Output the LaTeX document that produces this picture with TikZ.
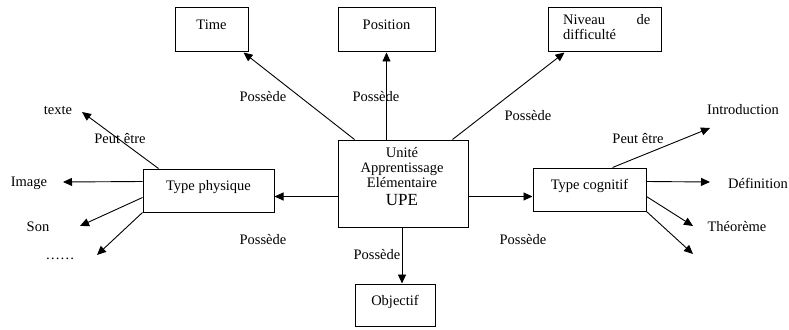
\documentclass[tikz,border=0pt]{standalone}
\usepackage{fontspec}
\setmainfont{Liberation Serif}
\usetikzlibrary{arrows.meta,calc}
\tikzset{
  box/.style={draw,line width=1pt,inner sep=0pt,text height=7pt,text depth=7pt,
    font=\fontsize{14.5}{15}\selectfont},
  lbl/.style={inner sep=0pt,font=\fontsize{14.5}{15}\selectfont},
  arr/.style={line width=0.9pt,-{Triangle[length=9pt,width=8pt]}},
}
\begin{document}
\begin{tikzpicture}[x=1pt,y=-1pt]
\useasboundingbox (0,0) rectangle (789,329);
% boxes
\node[box,minimum width=73pt,minimum height=44pt] (time) at (211.5,30) {Time};
\node[box,minimum width=97pt,minimum height=44pt] (position) at (386.5,30) {Position};
\node[draw,line width=1pt,inner sep=0pt,minimum width=113pt,minimum height=44pt] (niveau) at (604.5,30) {};
\node[lbl,align=left,anchor=north west] (niveautext) at (563,14)
  {\makebox[87pt][s]{Niveau de}\\difficulté};
\node[draw,line width=1pt,minimum width=130pt,minimum height=87pt] (upe) at (403,183.5) {};
\node[lbl,align=center] (upetext) at (402,177)
  {Unité\\Apprentissage\\Elémentaire\\[3pt]{\fontsize{17}{18}\selectfont UPE}};
\node[box,minimum width=80pt,minimum height=42pt] (objectif) at (395,305) {Objectif};
\node[box,minimum width=131pt,minimum height=43pt] (tphys) at (208.5,190.5) {Type physique};
\node[box,minimum width=113pt,minimum height=43pt] (tcog) at (589.5,189.5) {Type cognitif};
% leaf labels
\node[lbl] (texte) at (58,110) {texte};
\node[lbl] (image) at (29,183) {Image};
\node[lbl] (son) at (38,227) {Son};
\node[lbl] (dots) at (60,259) {……};
\node[lbl] (intro) at (743,110) {Introduction};
\node[lbl] (def) at (758,183) {Définition};
\node[lbl] (thm) at (737,227) {Théorème};
% edge labels
\node[lbl] (p1) at (263,97) {Possède};
\node[lbl] (p2) at (376,97) {Possède};
\node[lbl] (p3) at (528,116) {Possède};
\node[lbl] (p4) at (263,240) {Possède};
\node[lbl] (p5) at (523,240) {Possède};
\node[lbl] (p6) at (377,255) {Possède};
\node[lbl] (pe1) at (120,139) {Peut être};
\node[lbl] (pe2) at (638,139) {Peut être};
% free arrow ends
\coordinate (cTexte) at (82,112);
\coordinate (cImage) at (63,182);
\coordinate (cSon) at (80,226);
\coordinate (cDots) at (97,255);
\coordinate (cIntro) at (710,128);
\coordinate (cDef) at (710,182);
\coordinate (cThm) at (693,226);
\coordinate (cMore) at (693,254);
\coordinate (uw) at ($(upe.west)+(0,13)$);
\coordinate (ue) at ($(upe.east)+(0,13)$);
\coordinate (us) at ($(upe.south)+(-1,0)$);
% connectors from UPE
\draw[arr] ($(upe.north west)+(17,0)$) -- ($(time.south east)+(-5,0)$);
\draw[arr] (position.south |- upe.north) -- (position.south);
\draw[arr] ($(upe.north east)+(-16,0)$) -- ($(niveau.south west)+(17,0)$);
\draw[arr] (us) -- (us |- objectif.north);
\draw[arr] (uw) -- (uw -| tphys.east);
\draw[arr] (ue) -- (ue -| tcog.west);
% Type physique
\draw[arr] ($(tphys.north west)+(16,0)$) -- (cTexte);
\draw[arr] ($(tphys.north west)+(0,13)$) -- (cImage);
\draw[arr] ($(tphys.north west)+(0,29)$) -- (cSon);
\draw[arr] (tphys.south west) -- (cDots);
% Type cognitif
\draw[arr] ($(tcog.north west)+(80,0)$) -- (cIntro);
\draw[arr] ($(tcog.north east)+(0,14)$) -- (cDef);
\draw[arr] ($(tcog.north east)+(0,29)$) -- (cThm);
\draw[arr] (tcog.south east) -- (cMore);
\end{tikzpicture}
\end{document}
